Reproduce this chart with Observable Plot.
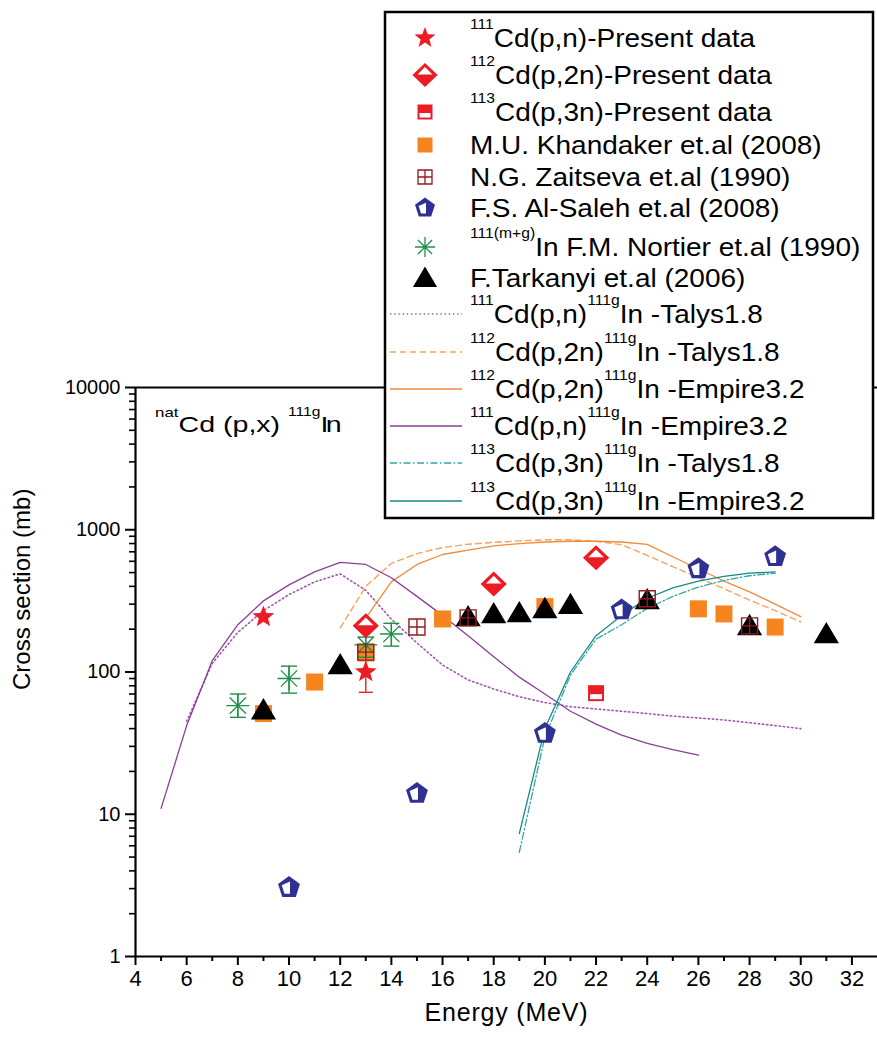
<!DOCTYPE html>
<html>
<head>
<meta charset="utf-8">
<script src="https://cdn.jsdelivr.net/npm/d3@7"></script>
<script src="https://cdn.jsdelivr.net/npm/@observablehq/plot@0.6"></script>
<style>
  body { margin: 0; background: #fff; }
  #wrap { position: relative; width: 877px; height: 1037px; overflow: hidden; background: #fff; }
</style>
</head>
<body>
<div id="wrap"></div>
<script>
// ---------------- DATA ----------------
// Present data
const energyPN = [9, 13];
const sigmaPN = [244, 100];
const loPN = [226, 72];
const hiPN = [262, 126];
const energyP2N = [13, 18, 22];
const sigmaP2N = [211, 415, 635];
const energyP3N = [22];
const sigmaP3N = [71];
// Literature
const energyKhandaker = [9, 11, 13, 16, 20, 26, 27, 29];
const sigmaKhandaker = [51, 85, 136, 236, 288, 278, 256, 207];
const energyZaitseva = [13, 15, 17, 24, 28];
const sigmaZaitseva = [138, 207, 240, 327, 211];
const energyAlSaleh = [10, 15, 20, 23, 26, 29];
const sigmaAlSaleh = [3.05, 14, 37, 273, 531, 646];
const energyNortier = [8, 10, 13, 14];
const sigmaNortier = [58, 90, 155, 185];
const loNortier = [48, 71, 127, 152];
const hiNortier = [70, 110, 176, 220];
const energyTarkanyi = [9, 12, 17, 18, 19, 20, 21, 24, 28, 31];
const sigmaTarkanyi = [54, 112, 244, 256, 260, 278, 297, 321, 211, 185];
const loTarkanyi = [48, 100, 222, 232, 236, 252, 270, 292, 190, 168];
const hiTarkanyi = [58, 120, 256, 268, 272, 290, 310, 335, 222, 193];
// Model calculations
const energyTalysPN = [6, 7, 8, 9, 10, 11, 12, 13, 14, 15, 16, 17, 18, 19, 20, 21, 22, 23, 24, 25, 26, 27, 28, 29, 30];
const sigmaTalysPN = [45, 115, 190, 270, 350, 430, 490, 375, 235, 160, 112, 88, 76, 67, 61, 57, 55, 53, 51, 49, 47.5, 46, 44, 42, 40];
const energyEmpirePN = [5, 6, 7, 8, 9, 10, 11, 12, 13, 14, 15, 16, 17, 18, 19, 20, 21, 22, 23, 24, 25, 26];
const sigmaEmpirePN = [11, 42, 120, 215, 316, 410, 506, 590, 570, 460, 340, 250, 180, 128, 92, 70, 53, 43, 36, 31.5, 28.5, 26];
const energyTalysP2N = [12, 13, 14, 15, 16, 17, 18, 19, 20, 21, 22, 23, 24, 25, 26, 27, 28, 29, 30];
const sigmaTalysP2N = [204, 400, 580, 680, 750, 790, 815, 835, 850, 850, 830, 785, 660, 550, 460, 385, 320, 270, 225];
const energyEmpireP2N = [13, 14, 15, 16, 17, 18, 19, 20, 21, 22, 23, 24, 25, 26, 27, 28, 29, 30];
const sigmaEmpireP2N = [240, 430, 570, 670, 720, 770, 800, 820, 830, 830, 820, 790, 646, 530, 436, 366, 300, 245];
const energyTalysP3N = [19, 20, 21, 22, 23, 24, 25, 26, 27, 28, 29];
const sigmaTalysP3N = [5.4, 35, 95, 170, 215, 280, 340, 395, 440, 475, 495];
const energyEmpireP3N = [19, 20, 21, 22, 23, 24, 25, 26, 27, 28, 29];
const sigmaEmpireP3N = [7.3, 40, 100, 180, 250, 330, 390, 435, 470, 495, 505];
// Axis ticks
const xMajorTicks = [4, 6, 8, 10, 12, 14, 16, 18, 20, 22, 24, 26, 28, 30, 32];
const xMinorTicks = [5, 7, 9, 11, 13, 15, 17, 19, 21, 23, 25, 27, 29, 31];
const yMajorTicks = [1, 10, 100, 1000, 10000];
const yMinorTicks = [2,3,4,5,6,7,8,9,20,30,40,50,60,70,80,90,200,300,400,500,600,700,800,900,2000,3000,4000,5000,6000,7000,8000,9000];
// Legend labels (segments: [kind, text], kind "s" = superscript)
const legendLabels = [
  [["s","111"],["n","Cd(p,n)-Present data"]],
  [["s","112"],["n","Cd(p,2n)-Present data"]],
  [["s","113"],["n","Cd(p,3n)-Present data"]],
  [["n","M.U. Khandaker et.al (2008)"]],
  [["n","N.G. Zaitseva et.al (1990)"]],
  [["n","F.S. Al-Saleh et.al (2008)"]],
  [["s","111(m+g)"],["n","In F.M. Nortier et.al (1990)"]],
  [["n","F.Tarkanyi et.al (2006)"]],
  [["s","111"],["n","Cd(p,n)"],["s","111g"],["n","In -Talys1.8"]],
  [["s","112"],["n","Cd(p,2n)"],["s","111g"],["n","In -Talys1.8"]],
  [["s","112"],["n","Cd(p,2n)"],["s","111g"],["n","In -Empire3.2"]],
  [["s","111"],["n","Cd(p,n)"],["s","111g"],["n","In -Empire3.2"]],
  [["s","113"],["n","Cd(p,3n)"],["s","111g"],["n","In -Talys1.8"]],
  [["s","113"],["n","Cd(p,3n)"],["s","111g"],["n","In -Empire3.2"]]
];

// ---------------- STYLES ----------------
const RED = "#ed1c24", ORANGE = "#f6841f", DARKRED = "#8f1d21", BLUE = "#2e3192", GREEN = "#1f8f4a";
const PURPLE = "#8c3d98", PURPLE_DOT = "#a257ae", ORANGE_SOLID = "#f28a3a", ORANGE_DASH = "#f7a25e";
const TEAL = "#168a88", TEAL_DD = "#34a5a4";
const FONT = "'Liberation Sans', Arial, sans-serif";

// ---------------- SYMBOLS ----------------
const sym = (fn) => ({ draw(ctx, size) { fn(ctx, Math.sqrt(size / Math.PI)); } });
const poly = (ctx, pts) => { ctx.moveTo(pts[0][0], pts[0][1]); for (let i = 1; i < pts.length; i++) ctx.lineTo(pts[i][0], pts[i][1]); ctx.closePath(); };
const starSym = sym((c, r) => { const p = []; for (let i = 0; i < 10; i++) { const a = -Math.PI / 2 + i * Math.PI / 5, rr = i % 2 ? r * 0.42 : r; p.push([rr * Math.cos(a), rr * Math.sin(a)]); } poly(c, p); });
const diamondSym = sym((c, r) => poly(c, [[0, -r], [r * 1.05, 0], [0, r], [-r * 1.05, 0]]));
const diamondTopSym = sym((c, r) => poly(c, [[0, -r * 0.66], [r * 0.62, -r * 0.05], [-r * 0.62, -r * 0.05]]));
const squareSym = sym((c, r) => poly(c, [[-r, -r], [r, -r], [r, r], [-r, r]]));
const squareBottomSym = sym((c, r) => poly(c, [[-r + 2, 1], [r - 2, 1], [r - 2, r - 2], [-r + 2, r - 2]]));
const gridSym = sym((c, r) => { poly(c, [[-r, -r], [r, -r], [r, r], [-r, r]]); c.moveTo(0, -r); c.lineTo(0, r); c.moveTo(-r, 0); c.lineTo(r, 0); });
const pentPts = (R) => d3.range(5).map(i => { const a = -Math.PI / 2 + i * 2 * Math.PI / 5; return [R * Math.cos(a), R * Math.sin(a)]; });
const pentSym = sym((c, r) => poly(c, pentPts(r)));
const pentHalfSym = sym((c, r) => { const p = pentPts(r - 3.8); poly(c, [[1, p[0][1] + 1.5], [1, p[3][1]], p[3], p[4]]); });
const asteriskSym = sym((c, r) => { for (let k = 0; k < 4; k++) { const a = k * Math.PI / 4; c.moveTo(-r * Math.cos(a), -r * Math.sin(a)); c.lineTo(r * Math.cos(a), r * Math.sin(a)); } });
const triangleSym = sym((c, r) => poly(c, [[0, -r], [r * 1.05, r * 0.78], [-r * 1.05, r * 0.78]]));
const capSym = sym((c, r) => { c.moveTo(-r, 0); c.lineTo(r, 0); });

// ---------------- ROWS ----------------
const rows = (E, V, lo, hi) => E.map((e, i) => ({ e, v: V[i], lo: lo ? lo[i] : undefined, hi: hi ? hi[i] : undefined }));
const dPN = rows(energyPN, sigmaPN, loPN, hiPN);
const dP2N = rows(energyP2N, sigmaP2N);
const dP3N = rows(energyP3N, sigmaP3N);
const dKh = rows(energyKhandaker, sigmaKhandaker);
const dZa = rows(energyZaitseva, sigmaZaitseva);
const dAs = rows(energyAlSaleh, sigmaAlSaleh);
const dNo = rows(energyNortier, sigmaNortier, loNortier, hiNortier);
const dTa = rows(energyTarkanyi, sigmaTarkanyi, loTarkanyi, hiTarkanyi);

const curves = [
  { E: energyTalysPN, V: sigmaTalysPN, stroke: PURPLE_DOT, dash: "1.4,2.8", w: 1.6 },
  { E: energyTalysP2N, V: sigmaTalysP2N, stroke: ORANGE_DASH, dash: "6,4", w: 1.4 },
  { E: energyEmpireP2N, V: sigmaEmpireP2N, stroke: ORANGE_SOLID, dash: null, w: 1.3 },
  { E: energyEmpirePN, V: sigmaEmpirePN, stroke: PURPLE, dash: null, w: 1.3 },
  { E: energyTalysP3N, V: sigmaTalysP3N, stroke: TEAL_DD, dash: "7,2.5,1.5,2.5", w: 1.3 },
  { E: energyEmpireP3N, V: sigmaEmpireP3N, stroke: TEAL, dash: null, w: 1.3 }
];

const marks = [];
for (const c of curves) {
  marks.push(Plot.line(rows(c.E, c.V), { x: "e", y: "v", stroke: c.stroke, strokeWidth: c.w, strokeDasharray: c.dash || undefined, curve: "linear" }));
}
// frame lines
marks.push(Plot.ruleY([10000], { stroke: "black", strokeWidth: 2.2 }));
marks.push(Plot.ruleY([1], { stroke: "black", strokeWidth: 2.2 }));
marks.push(Plot.ruleX([4], { y1: 1, y2: 10000, stroke: "black", strokeWidth: 2.2 }));
// axes
marks.push(Plot.axisX({ ticks: xMajorTicks, tickSize: 9, tickPadding: 5, tickFormat: d => String(d), strokeWidth: 2, fontSize: 22, label: null }));
marks.push(Plot.axisX({ ticks: xMinorTicks, tickSize: 5, tickFormat: () => "", strokeWidth: 2, label: null }));
marks.push(Plot.axisY({ ticks: yMajorTicks, tickSize: 10, tickPadding: 5, tickFormat: d3.format("d"), strokeWidth: 2, fontSize: 20, label: null }));
marks.push(Plot.axisY({ ticks: yMinorTicks, tickSize: 6, tickFormat: () => "", strokeWidth: 1.6, label: null }));
marks.push(Plot.text(["Energy (MeV)"], { frameAnchor: "bottom", dy: 64, fontSize: 25, fill: "black", fontFamily: FONT }));
marks.push(Plot.text(["Cross section (mb)"], { frameAnchor: "left", rotate: -90, dx: -113, dy: 18, fontSize: 24, fill: "black", fontFamily: FONT }));

// data marks
marks.push(Plot.dot(dKh, { x: "e", y: "v", symbol: squareSym, r: 8.5, fill: ORANGE }));
marks.push(Plot.dot(dAs, { x: "e", y: "v", symbol: pentSym, r: 11.5, fill: BLUE }));
marks.push(Plot.dot(dAs, { x: "e", y: "v", symbol: pentHalfSym, r: 11.5, fill: "white" }));
marks.push(Plot.ruleX(dNo, { x: "e", y1: "lo", y2: "hi", stroke: GREEN, strokeWidth: 1.4 }));
marks.push(Plot.dot(dNo, { x: "e", y: "lo", symbol: capSym, r: 8, stroke: GREEN, fill: "none", strokeWidth: 1.4 }));
marks.push(Plot.dot(dNo, { x: "e", y: "hi", symbol: capSym, r: 8, stroke: GREEN, fill: "none", strokeWidth: 1.4 }));
marks.push(Plot.dot(dNo, { x: "e", y: "v", symbol: asteriskSym, r: 11.5, stroke: GREEN, fill: "none", strokeWidth: 1.3 }));
marks.push(Plot.ruleX(dTa, { x: "e", y1: "lo", y2: "hi", stroke: "#333", strokeWidth: 1.5 }));
marks.push(Plot.dot(dTa, { x: "e", y: "v", symbol: triangleSym, r: 12, fill: "black" }));
marks.push(Plot.dot(dZa, { x: "e", y: "v", symbol: gridSym, r: 8, stroke: DARKRED, fill: "none", strokeWidth: 1.4 }));
marks.push(Plot.dot(dP3N, { x: "e", y: "v", symbol: squareSym, r: 8, fill: RED }));
marks.push(Plot.dot(dP3N, { x: "e", y: "v", symbol: squareBottomSym, r: 8, fill: "white" }));
marks.push(Plot.dot(dP2N, { x: "e", y: "v", symbol: diamondSym, r: 12.5, fill: RED }));
marks.push(Plot.dot(dP2N, { x: "e", y: "v", symbol: diamondTopSym, r: 12.5, fill: "white" }));
marks.push(Plot.ruleX(dPN, { x: "e", y1: "lo", y2: "hi", stroke: RED, strokeWidth: 1.4 }));
marks.push(Plot.dot(dPN.filter(d => d.e === 13), { x: "e", y: "lo", symbol: capSym, r: 7, stroke: RED, fill: "none", strokeWidth: 1.4 }));
marks.push(Plot.dot(dPN, { x: "e", y: "v", symbol: starSym, r: 11.5, fill: RED }));

const chart = Plot.plot({
  width: 877,
  height: 1037,
  marginTop: 387,
  marginBottom: 81,
  marginLeft: 135,
  marginRight: 0,
  x: { domain: [4, 33] },
  y: { type: "log", domain: [1, 10000] },
  style: { fontFamily: FONT, fontSize: "20px", color: "black", background: "white", overflow: "visible" },
  marks
});
const wrap = document.getElementById("wrap");
wrap.appendChild(chart);
// slightly widen the x-axis title like the original
d3.select(chart).selectAll("text").filter(function () { return this.textContent === "Energy (MeV)"; })
  .attr("letter-spacing", "0.8px");

// ---------------- OVERLAY: annotation + legend ----------------
const ov = d3.select(wrap).append("svg")
  .attr("width", 877).attr("height", 1037)
  .style("position", "absolute").style("left", "0px").style("top", "0px")
  .style("pointer-events", "none")
  .attr("font-family", FONT);

// annotation
const ann = ov.append("g").attr("transform", "translate(155,432) scale(1.3,1)");
const annT = ann.append("text").attr("fill", "black");
annT.append("tspan").attr("font-size", 13).attr("dy", -15).text("nat");
annT.append("tspan").attr("font-size", 22).attr("dy", 15).text("Cd (p,x) ");
annT.append("tspan").attr("font-size", 12).attr("dy", -16).text("111g");
annT.append("tspan").attr("font-size", 22).attr("dy", 16).attr("letter-spacing", "-2px").text("In");

// legend box
ov.append("rect").attr("x", 385).attr("y", 12).attr("width", 488).attr("height", 506)
  .attr("fill", "white").attr("stroke", "black").attr("stroke-width", 2.5);

const rowY = [38, 75, 112, 145, 177, 208, 247, 278, 314, 352, 389, 426, 463, 501];
const symPath = (s, r) => { const p = d3.path(); s.draw(p, Math.PI * r * r); return p.toString(); };
const sx = 425;
const lg = ov.append("g");
const addSym = (i, s, r, attrs) => {
  const el = lg.append("path").attr("d", symPath(s, r)).attr("transform", `translate(${sx},${rowY[i]})`);
  for (const k in attrs) el.attr(k, attrs[k]);
};
addSym(0, starSym, 11, { fill: RED });
addSym(1, diamondSym, 12, { fill: RED });
addSym(1, diamondTopSym, 12, { fill: "white" });
addSym(2, squareSym, 7.5, { fill: RED });
addSym(2, squareBottomSym, 7.5, { fill: "white" });
addSym(3, squareSym, 7.5, { fill: ORANGE });
addSym(4, gridSym, 7, { fill: "none", stroke: DARKRED, "stroke-width": 1.3 });
addSym(5, pentSym, 10.5, { fill: BLUE });
addSym(5, pentHalfSym, 10.5, { fill: "white" });
addSym(6, asteriskSym, 10, { fill: "none", stroke: GREEN, "stroke-width": 1.3 });
addSym(7, triangleSym, 11.5, { fill: "black" });
curves.forEach((c, k) => {
  const y = rowY[8 + k];
  const ln = lg.append("line").attr("x1", 390).attr("x2", 462).attr("y1", y).attr("y2", y)
    .attr("stroke", c.stroke).attr("stroke-width", c.w);
  if (c.dash) ln.attr("stroke-dasharray", c.dash);
});
legendLabels.forEach((segs, i) => {
  const g = lg.append("g").attr("transform", `translate(470,${rowY[i] + 9}) scale(1.12,1)`);
  const t = g.append("text").attr("fill", "black");
  let up = false;
  segs.forEach(([kind, str]) => {
    const ts = t.append("tspan").text(str);
    if (kind === "s") { ts.attr("font-size", 14).attr("dy", up ? 0 : -18); up = true; }
    else { ts.attr("font-size", 25).attr("dy", up ? 18 : 0); up = false; }
  });
});
</script>
</body>
</html>
